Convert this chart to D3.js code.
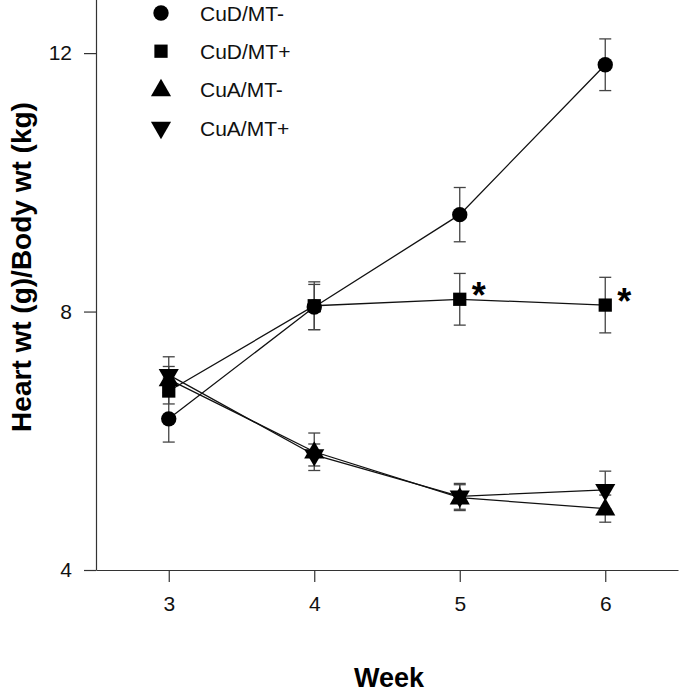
<!DOCTYPE html>
<html>
<head>
<meta charset="utf-8">
<script src="https://cdn.jsdelivr.net/npm/d3@7"></script>
<style>
  html, body { margin: 0; padding: 0; background: #fff; }
  svg { display: block; font-family: "Liberation Sans", Arial, sans-serif; }
</style>
</head>
<body>
<svg id="chart" width="685" height="692"></svg>
<script>
// ---- data ----
const weeks = [3, 4, 5, 6];
const seriesNames = ["CuD/MT-", "CuD/MT+", "CuA/MT-", "CuA/MT+"];
const seriesSymbols = ["circle", "square", "triangleUp", "triangleDown"];
const cudMTminus = [6.34, 8.07, 9.50, 11.82];
const cudMTminusErr = [0.36, 0.35, 0.42, 0.40];
const cudMTplus = [6.77, 8.09, 8.19, 8.10];
const cudMTplusErr = [0.20, 0.37, 0.40, 0.43];
const cuaMTminus = [6.95, 5.83, 5.12, 4.95];
const cuaMTminusErr = [0.20, 0.29, 0.20, 0.21];
const cuaMTplus = [7.02, 5.78, 5.14, 5.24];
const cuaMTplusErr = [0.28, 0.17, 0.20, 0.29];
const significantWeeks = [5, 6]; // asterisks on CuD/MT+
const xTicks = [3, 4, 5, 6];
const yTicks = [4, 8, 12];
const xTitle = "Week";
const yTitle = "Heart wt (g)/Body wt (kg)";

const seriesValues = [cudMTminus, cudMTplus, cuaMTminus, cuaMTplus];
const seriesErrors = [cudMTminusErr, cudMTplusErr, cuaMTminusErr, cuaMTplusErr];

// ---- layout ----
const svg = d3.select("#chart");
const x = d3.scaleLinear().domain([2.5, 6.5]).range([96, 678]);
const y = d3.scaleLinear().domain([4, 13]).range([570, -11.5]);

const axisColor = "#333";

// axes
const xAxis = svg.append("g").attr("transform", "translate(0,570)")
  .call(d3.axisBottom(x).tickValues(xTicks).tickFormat(d3.format("d")).tickSize(12).tickSizeOuter(0).tickPadding(14));
const yAxis = svg.append("g").attr("transform", "translate(96,0)")
  .call(d3.axisLeft(y).tickValues(yTicks).tickFormat(d3.format("d")).tickSize(12).tickSizeOuter(0).tickPadding(12));
[xAxis, yAxis].forEach(a => {
  a.select(".domain").attr("stroke", axisColor).attr("stroke-width", 1.2);
  a.selectAll(".tick line").attr("stroke", axisColor).attr("stroke-width", 1.2);
  a.selectAll(".tick text").attr("fill", "#111").attr("font-size", 21)
    .attr("font-family", "'Liberation Sans', Arial, sans-serif");
});

// symbol factory
function symbolPath(kind, size) {
  if (kind === "circle") return d3.symbol().type(d3.symbolCircle).size(size * 1.0)();
  if (kind === "square") return d3.symbol().type(d3.symbolSquare).size(size * 0.95)();
  return d3.symbol().type(d3.symbolTriangle).size(size * 0.95)();
}
function symbolTransform(kind, cx, cy) {
  if (kind === "triangleDown") return `translate(${cx},${cy}) rotate(180)`;
  if (kind === "triangleUp") return `translate(${cx},${cy + 1})`;
  return `translate(${cx},${cy})`;
}
const markerSize = 185;

// lines
const line = d3.line().x((d, i) => x(weeks[i])).y(d => y(d));
seriesValues.forEach(vals => {
  svg.append("path").attr("d", line(vals))
    .attr("fill", "none").attr("stroke", "#111").attr("stroke-width", 1.3);
});

// error bars
const capHalf = 6;
seriesValues.forEach((vals, si) => {
  const errs = seriesErrors[si];
  const g = svg.append("g").attr("stroke", "#444").attr("stroke-width", 1.3);
  vals.forEach((v, i) => {
    const cx = x(weeks[i]);
    const y1 = y(v + errs[i]), y2 = y(v - errs[i]);
    g.append("line").attr("x1", cx).attr("x2", cx).attr("y1", y1).attr("y2", y2);
    g.append("line").attr("x1", cx - capHalf).attr("x2", cx + capHalf).attr("y1", y1).attr("y2", y1);
    g.append("line").attr("x1", cx - capHalf).attr("x2", cx + capHalf).attr("y1", y2).attr("y2", y2);
  });
});

// markers
seriesValues.forEach((vals, si) => {
  const kind = seriesSymbols[si];
  vals.forEach((v, i) => {
    svg.append("path").attr("d", symbolPath(kind, markerSize))
      .attr("transform", symbolTransform(kind, x(weeks[i]), y(v)))
      .attr("fill", "#000");
  });
});

// asterisks
significantWeeks.forEach(w => {
  const i = weeks.indexOf(w);
  svg.append("text").attr("x", x(w) + 19).attr("y", y(cudMTplus[i]) + 9)
    .attr("text-anchor", "middle").attr("font-size", 36).attr("font-weight", "bold")
    .attr("fill", "#000").text("*");
});

// legend
const legend = svg.append("g");
seriesNames.forEach((name, i) => {
  const cy = 13 + i * 38.2;
  legend.append("path").attr("d", symbolPath(seriesSymbols[i], markerSize))
    .attr("transform", symbolTransform(seriesSymbols[i], 161, cy)).attr("fill", "#000");
  legend.append("text").attr("x", 200).attr("y", cy + 8)
    .attr("font-size", 21).attr("fill", "#111").text(name);
});

// axis titles
svg.append("text").attr("x", 389).attr("y", 687).attr("text-anchor", "middle")
  .attr("font-size", 27).attr("font-weight", "bold").attr("fill", "#000").text(xTitle);
svg.append("text").attr("transform", "translate(31,267) rotate(-90)")
  .attr("text-anchor", "middle").attr("font-size", 28).attr("font-weight", "bold")
  .attr("fill", "#000").text(yTitle);
</script>
</body>
</html>
